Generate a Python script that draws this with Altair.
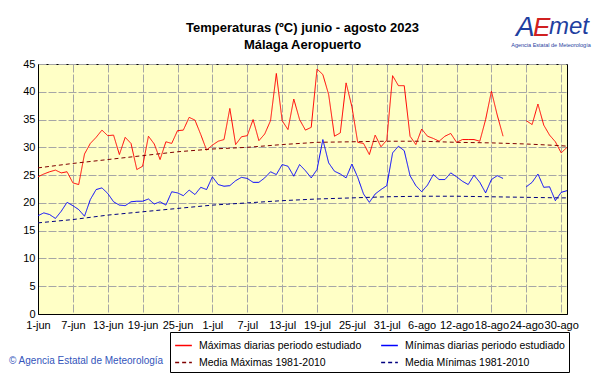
import altair as alt
import pandas as pd

# ---------------- data ----------------
title_lines = ["Temperaturas (ºC) junio - agosto 2023", "Málaga Aeropuerto"]
tick_labels = ["1-jun", "7-jun", "13-jun", "19-jun", "25-jun", "1-jul", "7-jul", "13-jul",
               "19-jul", "25-jul", "31-jul", "6-ago", "12-ago", "18-ago", "24-ago", "30-ago"]
tick_days = [0, 6, 12, 18, 24, 30, 36, 42, 48, 54, 60, 66, 72, 78, 84, 90]

max_t = [24.7, 25.2, 25.6, 25.9, 25.4, 25.6, 23.6, 23.3, 28.8, 30.7,
         31.8, 33.1, 32.1, 32.2, 28.7, 31.8, 30.7, 26.0, 26.6, 32.0,
         30.6, 27.8, 31.0, 30.7, 33.0, 33.1, 35.4, 34.9, 32.3, 29.5,
         30.4, 31.1, 31.4, 37.0, 30.5, 31.9, 32.1, 35.0, 31.2, 32.4,
         34.8, 43.3, 34.8, 33.2, 38.7, 35.0, 33.1, 33.6, 44.1, 43.1,
         39.5, 32.0, 32.6, 41.6, 37.3, 30.9, 30.7, 28.7, 32.2, 30.1,
         31.3, 42.9, 41.1, 41.1, 32.0, 30.5, 33.3, 32.0, 31.6, 31.1,
         32.0, 32.5, 30.9, 31.4, 31.4, 31.4, 31.1, 35.0, 40.1, 35.8,
         32.0, None, None, None, 34.8, 34.1, 37.8, 34.0, 32.2, 31.0,
         29.0, 30.0]

min_t = [17.7, 18.2, 17.9, 17.2, 18.5, 20.1, 19.5, 18.8, 17.6, 20.6,
         22.4, 22.7, 21.7, 20.2, 19.6, 19.5, 20.2, 20.3, 20.3, 20.7,
         19.8, 20.2, 19.6, 22.0, 21.8, 21.3, 22.3, 21.5, 22.8, 22.4,
         24.7, 23.3, 23.0, 23.1, 24.0, 24.6, 24.4, 23.7, 23.7, 24.5,
         25.6, 25.1, 26.9, 26.6, 24.8, 26.9, 25.8, 24.5, 26.0, 31.4,
         27.2, 25.7, 25.2, 24.5, 27.0, 24.6, 21.6, 20.1, 21.6, 22.4,
         23.1, 29.0, 30.2, 29.4, 24.9, 23.1, 22.0, 23.2, 25.1, 24.2,
         24.2, 25.4, 24.7, 23.9, 23.3, 25.0, 23.7, 21.8, 24.2, 24.9,
         24.4, None, None, None, 22.9, 23.7, 25.2, 22.8, 22.9, 20.4,
         21.9, 22.2]

norm_days = [0, 6, 12, 18, 24, 30, 36, 42, 48, 54, 60, 66, 72, 78, 84, 90, 91]
norm_max = [26.3, 27.1, 27.8, 28.5, 29.2, 29.7, 30.0, 30.5, 30.9, 31.0, 31.1, 31.1, 30.9, 30.8, 30.6, 30.3, 30.2]
norm_min = [16.4, 17.0, 17.8, 18.4, 19.0, 19.6, 20.0, 20.4, 20.7, 20.9, 21.1, 21.2, 21.2, 21.1, 21.0, 20.9, 20.9]

s_max = "Máximas diarias periodo estudiado"
s_min = "Mínimas diarias periodo estudiado"
s_nmax = "Media Máximas 1981-2010"
s_nmin = "Media Mínimas 1981-2010"
# legend grid is filled column by column
legend_order = [s_max, s_nmax, s_min, s_nmin]
legend_colors = ["#FF0000", "#800000", "#0000FF", "#000080"]
legend_dash = [[1, 0], [4, 3], [1, 0], [4, 3]]

# ---------------- table ----------------
rows = []
for name, vals in ((s_max, max_t), (s_min, min_t)):
    seg = 0
    prev_none = False
    for d, v in enumerate(vals):
        if v is None:
            prev_none = True
            continue
        if prev_none:
            seg += 1
            prev_none = False
        rows.append({"day": d, "t": v, "serie": name, "seg": seg})
for name, vals in ((s_nmax, norm_max), (s_nmin, norm_min)):
    for d, v in zip(norm_days, vals):
        rows.append({"day": d, "t": v, "serie": name, "seg": 0})
df = pd.DataFrame(rows)

label_expr = "[" + ",".join("'" + s + "'" for s in tick_labels) + "][round(datum.value/6)]"

FONT = "Liberation Sans"
GRID = "#A6A6A6"

lines = alt.Chart(df).mark_line(strokeWidth=1).encode(
    x=alt.X("day:Q", scale=alt.Scale(domain=[0, 91], nice=False, zero=False),
            axis=alt.Axis(values=tick_days, labelExpr=label_expr, title=None, ticks=False,
                          labelFont=FONT, labelFontSize=11, labelColor="black",
                          labelPadding=5, labelFlush=False, labelOverlap=False,
                          grid=True, gridColor=GRID, gridDash=[8, 2],
                          domainColor="black")),
    y=alt.Y("t:Q", scale=alt.Scale(domain=[0, 45], nice=False),
            axis=alt.Axis(values=list(range(0, 50, 5)), title=None, ticks=False,
                          labelFont=FONT, labelFontSize=11, labelColor="black",
                          labelPadding=3, grid=True, gridColor=GRID, gridDash=[8, 2],
                          domainColor="black")),
    color=alt.Color("serie:N", scale=alt.Scale(domain=legend_order, range=legend_colors),
                    legend=alt.Legend(title=None, orient="none", legendX=132, legendY=268,
                                      columns=2, symbolType="stroke", symbolSize=280,
                                      symbolStrokeWidth=1.5, labelFont=FONT, labelFontSize=10.5,
                                      labelColor="black", labelLimit=400, labelOffset=6,
                                      rowPadding=2, columnPadding=16, padding=4,
                                      strokeColor="black", fillColor="white")),
    strokeDash=alt.StrokeDash("serie:N", scale=alt.Scale(domain=legend_order, range=legend_dash),
                              legend=alt.Legend(title=None, orient="none", legendX=132, legendY=268,
                                                columns=2)),
    detail="seg:N",
    order="day:Q",
)

one = pd.DataFrame({"k": [0]})
title1 = alt.Chart(one).mark_text(text=title_lines[0], font=FONT, fontSize=13, fontWeight="bold",
                                  color="black", align="center", baseline="alphabetic").encode(
    x=alt.value(264.5), y=alt.value(-32))
title2 = alt.Chart(one).mark_text(text=title_lines[1], font=FONT, fontSize=13, fontWeight="bold",
                                  color="black", align="center", baseline="alphabetic").encode(
    x=alt.value(264.5), y=alt.value(-15))
logo_a = alt.Chart(one).mark_text(text="A", font=FONT, fontSize=28, fontStyle="italic",
                                  color="#1F3FA0", align="left", baseline="alphabetic").encode(
    x=alt.value(478), y=alt.value(-28))
logo_e = alt.Chart(one).mark_text(text="E", font=FONT, fontSize=26, fontStyle="italic",
                                  color="#D02020", align="left", baseline="alphabetic").encode(
    x=alt.value(495), y=alt.value(-28))
logo_met = alt.Chart(one).mark_text(text="met", font=FONT, fontSize=24, fontStyle="italic",
                                    color="#1F3FA0", align="left", baseline="alphabetic").encode(
    x=alt.value(511), y=alt.value(-30))
logo_sub = alt.Chart(one).mark_text(text="Agencia Estatal de Meteorología", font=FONT, fontSize=5.5,
                                    color="#1F3FA0", align="center", baseline="middle").encode(
    x=alt.value(513), y=alt.value(-19))
copy_txt = alt.Chart(one).mark_text(text="© Agencia Estatal de Meteorología", font=FONT, fontSize=10,
                                    color="#3355BB", align="left", baseline="middle").encode(
    x=alt.value(-29), y=alt.value(297))

chart = alt.layer(lines, title1, title2, logo_a, logo_e, logo_met, logo_sub, copy_txt).properties(
    width=529, height=250,
    autosize=alt.AutoSizeParams(type="none"),
    padding={"left": 30, "top": 56, "right": 26, "bottom": 62},
    background="white",
).configure_view(
    fill="#FFFFC6", stroke="black", strokeWidth=1
)

chart.save("out.html", embed_options={"renderer": "svg", "actions": False})
